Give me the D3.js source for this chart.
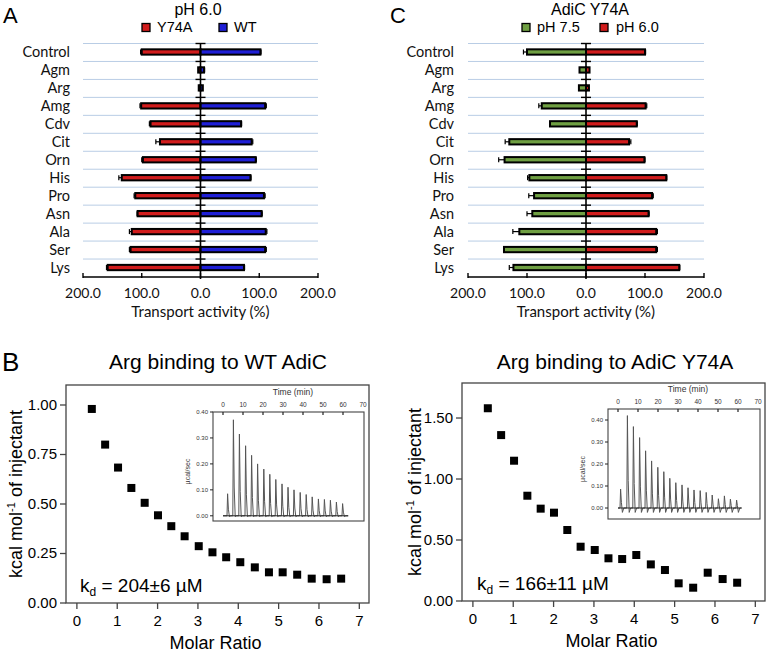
<!DOCTYPE html>
<html><head><meta charset="utf-8">
<script src="https://cdn.jsdelivr.net/npm/d3@7"></script>
<style>body{margin:0;background:#fff}svg{display:block}</style>
</head><body>
<svg id="fig" width="768" height="653"></svg>
<script>
// ---------- DATA ----------
const categories = ["Control","Agm","Arg","Amg","Cdv","Cit","Orn","His","Pro","Asn","Ala","Ser","Lys"];
// Panel A (pH 6.0)
const aY74A    = [100, 4, 3, 101, 85, 69, 98, 134, 111, 107, 117, 119, 158];
const aY74AErr = [2, 0, 0, 2, 2, 7, 2, 5, 2, 1, 4, 2, 2];
const aWT      = [102, 6, 4, 110, 69, 87, 94, 85, 108, 104, 111, 110, 74];
const aWTErr   = [1, 1, 0, 2, 1, 2, 1, 1, 2, 1, 2, 2, 1];
// Panel C (AdiC Y74A)
const cPH75    = [100, 11, 12, 75, 61, 130, 138, 96, 88, 91, 113, 139, 123];
const cPH75Err = [6, 0, 0, 5, 0, 7, 10, 3, 9, 9, 11, 0, 7];
const cPH60    = [100, 6, 5, 101, 86, 73, 99, 136, 112, 106, 119, 119, 158];
const cPH60Err = [1, 0, 0, 2, 1, 3, 1, 1, 2, 1, 2, 2, 1];
const transportTicks = [-200, -100, 0, 100, 200];

// Panel B: ITC isotherms
const molarRatio = [0.37,0.70,1.02,1.35,1.68,2.01,2.34,2.67,3.02,3.36,3.70,4.05,4.41,4.76,5.10,5.46,5.82,6.19,6.55];
const heatWT     = [0.98,0.80,0.684,0.581,0.506,0.443,0.388,0.337,0.287,0.256,0.231,0.206,0.180,0.155,0.155,0.143,0.123,0.120,0.123];
const heatY74A   = [1.58,1.36,1.15,0.863,0.757,0.724,0.582,0.445,0.418,0.350,0.344,0.377,0.300,0.254,0.145,0.109,0.232,0.180,0.150];
const molarTicks = [0,1,2,3,4,5,6,7];
const heatTicksWT = [0,0.25,0.5,0.75,1.0];
const heatTicksY74A = [0,0.5,1.0,1.5];
// Insets: raw thermogram peaks
const peakTimeWT   = [2.3,5.2,8.2,11.3,14.3,17.3,20.4,23.4,26.4,29.5,32.5,35.5,38.6,41.6,44.6,47.7,50.7,53.7,56.7,59.8];
const peakHeightWT = [0.085,0.37,0.315,0.27,0.233,0.20,0.18,0.16,0.14,0.123,0.11,0.10,0.09,0.082,0.073,0.065,0.063,0.06,0.053,0.047];
const peakTimeY74A   = [1.3,4.7,7.7,10.8,13.8,16.8,19.9,22.9,25.9,28.9,32.0,35.0,38.0,41.1,44.1,47.1,50.2,53.2,56.2,59.3];
const peakHeightY74A = [0.086,0.42,0.37,0.32,0.26,0.214,0.185,0.165,0.135,0.115,0.105,0.092,0.082,0.079,0.071,0.059,0.042,0.055,0.04,0.036];
const timeTicks = [0,10,20,30,40,50,60,70];
const powerTicks = [0,0.1,0.2,0.3,0.4];

// ---------- DRAW ----------
const svg = d3.select("#fig");
const SANS = "'Liberation Sans', Arial, sans-serif";
const HUM = "Lato, 'Open Sans', sans-serif";

function panelLetter(t, x, y, size) {
  svg.append("text").attr("x", x).attr("y", y).attr("font-family", SANS)
    .attr("font-size", size).attr("fill", "#000").text(t);
}

function transportPanel(o) {
  const g = svg.append("g");
  const x = d3.scaleLinear().domain([-200, 200]).range([o.x0, o.x1]);
  const y = d3.scaleBand().domain(categories).range([43, 276.5]);
  const bh = 5.3;
  g.append("text").attr("x", o.titleX).attr("y", 15).attr("text-anchor", "middle")
    .attr("font-family", SANS).attr("font-size", 16).text(o.title);
  o.legend.forEach(l => {
    g.append("rect").attr("x", l.x).attr("y", 23.5).attr("width", 8).attr("height", 8)
      .attr("fill", l.color).attr("stroke", "#000").attr("stroke-width", 1.3);
    g.append("text").attr("x", l.tx).attr("y", 32).attr("font-family", SANS)
      .attr("font-size", 14.5).text(l.label);
  });
  g.selectAll(".grid").data(categories).join("line")
    .attr("x1", o.x0).attr("x2", o.x1)
    .attr("y1", d => y(d) + 0.5).attr("y2", d => y(d) + 0.5)
    .attr("stroke", "#b9cde5").attr("stroke-width", 1);
  g.selectAll(".cat").data(categories).join("text")
    .attr("x", o.labelX).attr("y", d => y(d) + y.bandwidth() / 2 + 5)
    .attr("text-anchor", "end").attr("font-family", HUM).attr("font-size", 14.5)
    .attr("fill", "#111").text(d => d);
  const rows = categories.map((c, i) => ({c, l: o.left[i], le: o.leftErr[i], r: o.right[i], re: o.rightErr[i]}));
  rows.forEach(r => {
    const cy = y(r.c) + y.bandwidth() / 2;
    if (r.le > 0) {
      g.append("line").attr("x1", x(-r.l)).attr("x2", x(-r.l - r.le)).attr("y1", cy).attr("y2", cy).attr("stroke", "#000").attr("stroke-width", 1.2);
      g.append("line").attr("x1", x(-r.l - r.le)).attr("x2", x(-r.l - r.le)).attr("y1", cy - 2.5).attr("y2", cy + 2.5).attr("stroke", "#000").attr("stroke-width", 1.2);
    }
    if (r.re > 0) {
      g.append("line").attr("x1", x(r.r)).attr("x2", x(r.r + r.re)).attr("y1", cy).attr("y2", cy).attr("stroke", "#000").attr("stroke-width", 1.2);
      g.append("line").attr("x1", x(r.r + r.re)).attr("x2", x(r.r + r.re)).attr("y1", cy - 2.5).attr("y2", cy + 2.5).attr("stroke", "#000").attr("stroke-width", 1.2);
    }
  });
  g.selectAll(".barL").data(rows).join("rect")
    .attr("x", d => x(-d.l)).attr("width", d => x(0) - x(-d.l))
    .attr("y", d => y(d.c) + y.bandwidth() / 2 - bh / 2).attr("height", bh)
    .attr("fill", o.leftColor).attr("stroke", "#000").attr("stroke-width", 2);
  g.selectAll(".barR").data(rows).join("rect")
    .attr("x", x(0)).attr("width", d => x(d.r) - x(0))
    .attr("y", d => y(d.c) + y.bandwidth() / 2 - bh / 2).attr("height", bh)
    .attr("fill", o.rightColor).attr("stroke", "#000").attr("stroke-width", 2);
  g.append("line").attr("x1", x(0)).attr("x2", x(0)).attr("y1", 43).attr("y2", 279)
    .attr("stroke", "#000").attr("stroke-width", 1.6);
  g.selectAll(".ctick").data(categories).join("line")
    .attr("x1", x(0) - 5).attr("x2", x(0) + 5)
    .attr("y1", d => y(d) + 0.5).attr("y2", d => y(d) + 0.5)
    .attr("stroke", "#000").attr("stroke-width", 1.4);
  const ay = 277;
  g.append("line").attr("x1", o.x0).attr("x2", o.x1).attr("y1", ay).attr("y2", ay)
    .attr("stroke", "#000").attr("stroke-width", 1.6);
  g.selectAll(".btick").data(transportTicks).join("line")
    .attr("x1", d => x(d)).attr("x2", d => x(d)).attr("y1", ay - 4).attr("y2", ay + 1)
    .attr("stroke", "#000").attr("stroke-width", 1.4);
  g.selectAll(".blab").data(transportTicks).join("text")
    .attr("x", d => x(d)).attr("y", 298).attr("text-anchor", "middle")
    .attr("font-family", HUM).attr("font-size", 14).attr("fill", "#111")
    .text(d => Math.abs(d).toFixed(1));
  g.append("text").attr("x", x(0)).attr("y", 317).attr("text-anchor", "middle")
    .attr("font-family", HUM).attr("font-size", 15).attr("fill", "#111")
    .text("Transport activity (%)");
}

panelLetter("A", 3, 23, 22);
panelLetter("C", 390, 23, 22);

transportPanel({
  x0: 83, x1: 318, labelX: 70, titleX: 198, title: "pH 6.0",
  left: aY74A, leftErr: aY74AErr, right: aWT, rightErr: aWTErr,
  leftColor: "#d11c1c", rightColor: "#1f1fd6",
  legend: [{x: 142, tx: 157, color: "#d11c1c", label: "Y74A"},
           {x: 219, tx: 234, color: "#1f1fd6", label: "WT"}]
});
transportPanel({
  x0: 468, x1: 704, labelX: 454, titleX: 590, title: "AdiC Y74A",
  left: cPH75, leftErr: cPH75Err, right: cPH60, rightErr: cPH60Err,
  leftColor: "#6f9f42", rightColor: "#d11c1c",
  legend: [{x: 522, tx: 537, color: "#6f9f42", label: "pH 7.5"},
           {x: 600, tx: 616, color: "#d11c1c", label: "pH 6.0"}]
});

// ---------- Panel B ----------
panelLetter("B", 2, 371, 26);

function itcPanel(o) {
  const g = svg.append("g");
  const x = d3.scaleLinear().domain([-0.27, 7.24]).range([o.fx0, o.fx1]);
  const y = d3.scaleLinear().domain([0, o.yTop]).range([o.fy1, o.fy0]);
  g.append("text").attr("x", o.titleX).attr("y", 369).attr("text-anchor", "middle")
    .attr("font-family", SANS).attr("font-size", 21).text(o.title);
  g.append("rect").attr("x", o.fx0).attr("y", o.fy0).attr("width", o.fx1 - o.fx0)
    .attr("height", o.fy1 - o.fy0).attr("fill", "none").attr("stroke", "#444").attr("stroke-width", 1.3);
  g.selectAll(".xt").data(molarTicks).join("line")
    .attr("x1", d => x(d)).attr("x2", d => x(d)).attr("y1", o.fy1).attr("y2", o.fy1 + 6)
    .attr("stroke", "#444").attr("stroke-width", 1.3);
  g.selectAll(".xl").data(molarTicks).join("text")
    .attr("x", d => x(d)).attr("y", o.fy1 + 23).attr("text-anchor", "middle")
    .attr("font-family", SANS).attr("font-size", 15).text(d => d);
  g.selectAll(".yt").data(o.yTicks).join("line")
    .attr("x1", o.fx0 - 6).attr("x2", o.fx0).attr("y1", d => y(d)).attr("y2", d => y(d))
    .attr("stroke", "#444").attr("stroke-width", 1.3);
  g.selectAll(".yl").data(o.yTicks).join("text")
    .attr("x", o.fx0 - 9).attr("y", d => y(d) + 5).attr("text-anchor", "end")
    .attr("font-family", SANS).attr("font-size", 15).text(d => d.toFixed(2));
  g.append("text").attr("x", (o.fx0 + o.fx1) / 2 - 2).attr("y", o.fy1 + 46).attr("text-anchor", "middle")
    .attr("font-family", SANS).attr("font-size", 18).text("Molar Ratio");
  const yl = g.append("text").attr("transform", `translate(${o.ylabX},${(o.fy0 + o.fy1) / 2}) rotate(-90)`)
    .attr("text-anchor", "middle").attr("font-family", SANS).attr("font-size", 18);
  yl.append("tspan").text("kcal mol");
  yl.append("tspan").attr("font-size", 11).attr("dy", -7).text("-1");
  yl.append("tspan").attr("dy", 7).text(" of injectant");
  g.selectAll(".pt").data(o.data).join("rect")
    .attr("x", d => x(d[0]) - 4).attr("y", d => y(d[1]) - 4)
    .attr("width", 8).attr("height", 8).attr("fill", "#000");
  const kd = g.append("text").attr("x", o.kdX).attr("y", o.fy1 - 11)
    .attr("font-family", SANS).attr("font-size", 19);
  kd.append("tspan").text("k");
  kd.append("tspan").attr("font-size", 12).attr("dy", 4).text("d");
  kd.append("tspan").attr("dy", -4).text(" = " + o.kd);

  const ix = d3.scaleLinear().domain(o.iT).range([o.ix0, o.ix1]);
  const iy = d3.scaleLinear().domain(o.iP).range([o.iy1, o.iy0]);
  g.append("rect").attr("x", o.ix0).attr("y", o.iy0).attr("width", o.ix1 - o.ix0)
    .attr("height", o.iy1 - o.iy0).attr("fill", "#fff").attr("stroke", "#444").attr("stroke-width", 1.1);
  g.selectAll(".tt").data(timeTicks.filter(t => t < 70)).join("line")
    .attr("x1", d => ix(d)).attr("x2", d => ix(d)).attr("y1", o.iy0).attr("y2", o.iy0 + 3)
    .attr("stroke", "#222").attr("stroke-width", 1.2);
  g.selectAll(".tl").data(timeTicks).join("text")
    .attr("x", d => ix(d)).attr("y", o.iy0 - 5).attr("text-anchor", "middle")
    .attr("font-family", SANS).attr("font-size", 6.5).attr("fill", "#333").text(d => d);
  g.append("text").attr("x", ix(35)).attr("y", o.iy0 - 17).attr("text-anchor", "middle")
    .attr("font-family", SANS).attr("font-size", 8.5).attr("fill", "#333").text("Time (min)");
  g.selectAll(".pt2").data(powerTicks).join("line")
    .attr("x1", o.ix0 - 3).attr("x2", o.ix0).attr("y1", d => iy(d)).attr("y2", d => iy(d))
    .attr("stroke", "#222").attr("stroke-width", 1);
  g.selectAll(".pl").data(powerTicks).join("text")
    .attr("x", o.ix0 - 5).attr("y", d => iy(d) + 2).attr("text-anchor", "end")
    .attr("font-family", SANS).attr("font-size", 6).attr("fill", "#333").text(d => d.toFixed(2));
  g.append("text").attr("transform", `translate(${o.ix0 - 23},${(o.iy0 + o.iy1) / 2 + 5}) rotate(-90)`)
    .attr("text-anchor", "middle").attr("font-family", SANS).attr("font-size", 7).attr("fill", "#333")
    .text("µcal/sec");
  const pts = [[o.baseStart, 0]];
  o.peakT.forEach((t, i) => {
    pts.push([t - 0.3, 0], [t, o.peakH[i]], [t + 0.4, o.peakH[i] * 0.3], [t + 0.9, o.dip], [t + 1.6, 0]);
  });
  pts.push([o.baseEnd, 0]);
  const line = d3.line().x(d => ix(d[0])).y(d => iy(d[1]));
  g.append("path").attr("d", line(pts)).attr("fill", "none")
    .attr("stroke", "#555").attr("stroke-width", 1);
  g.append("path").attr("d", line([[o.baseStart, 0], [o.baseEnd, 0]])).attr("fill", "none")
    .attr("stroke", "#222").attr("stroke-width", 1);
}

itcPanel({
  title: "Arg binding to WT AdiC", titleX: 218,
  fx0: 66, fx1: 369, fy0: 385, fy1: 603, yTop: 1.101, yTicks: heatTicksWT,
  ylabX: 22, data: molarRatio.map((m, i) => [m, heatWT[i]]),
  kd: "204±6 µM", kdX: 80,
  ix0: 213, ix1: 364, iy0: 412, iy1: 521, iT: [-5, 70.5], iP: [-0.02, 0.40],
  peakT: peakTimeWT, peakH: peakHeightWT, dip: -0.003, baseStart: 0, baseEnd: 62.6
});
itcPanel({
  title: "Arg binding to AdiC Y74A", titleX: 615,
  fx0: 462, fx1: 765, fy0: 383, fy1: 601, yTop: 1.787, yTicks: heatTicksY74A,
  ylabX: 421, data: molarRatio.map((m, i) => [m, heatY74A[i]]),
  kd: "166±11 µM", kdX: 477,
  ix0: 608, ix1: 760, iy0: 409, iy1: 519, iT: [-5, 71], iP: [-0.05, 0.45],
  peakT: peakTimeY74A, peakH: peakHeightY74A, dip: -0.02, baseStart: 0, baseEnd: 61.8
});
</script>
</body></html>
